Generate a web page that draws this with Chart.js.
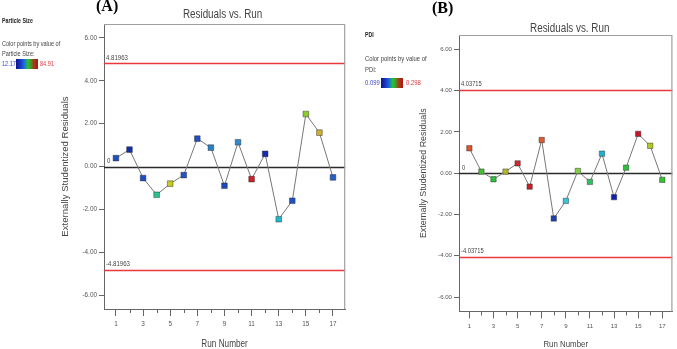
<!DOCTYPE html>
<html><head><meta charset="utf-8">
<script src="https://cdn.jsdelivr.net/npm/chart.js@4/dist/chart.umd.min.js"></script>
<style>
html,body{margin:0;padding:0;width:677px;height:349px;overflow:hidden;background:#fff;}
.w{position:absolute;top:0;height:349px;}
.t{position:absolute;white-space:nowrap;height:10px;line-height:10px;font-family:"Liberation Sans",Arial,sans-serif;color:#444;transform:scaleX(0.82);transform-origin:0 50%;}
.b{font-weight:bold;color:#222;}
.grad{position:absolute;background:linear-gradient(to right,#0c128c 0%,#1a3cc8 22%,#1f6fd8 38%,#1fc040 52%,#30b030 62%,#a04018 80%,#b01414 100%);}
.lab{position:absolute;white-space:nowrap;font-family:"Liberation Serif","Times New Roman",serif;font-weight:bold;font-size:16px;line-height:16px;color:#000;}
</style></head><body>
<div class="w" style="left:0;width:350px;"><canvas id="c1"></canvas></div>
<div class="w" style="left:355px;width:322px;"><canvas id="c2"></canvas></div>

<div class="lab" style="left:96px;top:-2.5px;">(A)</div>
<div class="lab" style="left:432px;top:-0.5px;">(B)</div>

<div class="t b" style="left:2px;top:15.5px;font-size:6.4px;">Particle Size</div>
<div class="t" style="left:2px;top:38.5px;font-size:6.8px;">Color points by value of</div>
<div class="t" style="left:2px;top:48.5px;font-size:6.8px;">Particle Size:</div>
<div class="t" style="left:2px;top:59px;font-size:6.8px;color:#3a44c8;">12.17</div>
<div class="grad" style="left:16px;top:59px;width:22px;height:10px;"></div>
<div class="t" style="left:40px;top:59px;font-size:6.8px;color:#e0393e;">84.91</div>

<div class="t b" style="left:365px;top:30px;font-size:6.4px;">PDI</div>
<div class="t" style="left:365px;top:54px;font-size:7.2px;">Color points by value of</div>
<div class="t" style="left:365px;top:64.5px;font-size:7.2px;">PDI:</div>
<div class="t" style="left:365px;top:78px;font-size:7.2px;color:#3a44c8;">0.099</div>
<div class="grad" style="left:381px;top:78px;width:22px;height:10px;"></div>
<div class="t" style="left:406px;top:78px;font-size:7.2px;color:#e0393e;">0.298</div>

<script>
// ---- data ----
const runs = [1,2,3,4,5,6,7,8,9,10,11,12,13,14,15,16,17];
const psResid = [0.39,0.79,-0.54,-1.32,-0.80,-0.40,1.30,0.88,-0.90,1.13,-0.59,0.59,-2.46,-1.60,2.45,1.58,-0.51];
const pdiResid = [1.21,0.08,-0.29,0.08,0.48,-0.65,1.61,-2.19,-1.34,0.11,-0.42,0.95,-1.16,0.27,1.91,1.33,-0.32];
const psColors = ['#1f4fc0','#1030a8','#2050c0','#2fbf8f','#c8c828','#2455c4','#2050c0','#2a80c8','#1d48b8','#2f8ad0','#d0202a','#1a2ab0','#22b8c8','#2050c0','#8ccc28','#d0b030','#2460c8'];
const pdiColors = ['#e05530','#40c030','#30c040','#b0b828','#d02830','#c82028','#e05a30','#2040b0','#30c8d8','#80d040','#30c060','#20b0d0','#1020b0','#30c040','#c01828','#b0c828','#38c030'];
const psLimit = 4.81963;
const pdiLimit = 4.03715;
const yTickValues = ['-6.00','-4.00','-2.00','0.00','2.00','4.00','6.00'];
const chartTitle = 'Residuals vs. Run';
const xTitle = 'Run Number';
const yTitle = 'Externally Studentized Residuals';

const REG = '"Liberation Sans",Arial,sans-serif';
const SX = 0.82; // horizontal squeeze of horizontal text

function squeezedText(ctx, text, x, y, align) {
  ctx.save();
  ctx.translate(x, y);
  ctx.scale(SX, 1);
  ctx.textAlign = align;
  ctx.fillText(text, 0, 0);
  ctx.restore();
}

const decor = {
  id: 'decor',
  beforeDatasetsDraw(chart, args, o) {
    const {ctx, chartArea: a, scales: {x, y}} = chart;
    ctx.save();
    ctx.lineWidth = 1.5;
    ctx.strokeStyle = '#e8383d';
    [o.limit, -o.limit].forEach(v => {
      const py = Math.round(y.getPixelForValue(v)) + 0.5;
      ctx.beginPath(); ctx.moveTo(a.left, py); ctx.lineTo(a.right, py); ctx.stroke();
    });
    ctx.strokeStyle = '#2a2a2a';
    const pz = Math.round(y.getPixelForValue(0)) + 0.5;
    ctx.beginPath(); ctx.moveTo(a.left, pz); ctx.lineTo(a.right, pz); ctx.stroke();
    ctx.fillStyle = '#444';
    ctx.font = o.labelSize + 'px ' + REG;
    ctx.textBaseline = 'bottom';
    squeezedText(ctx, String(o.limit), a.left + 2, y.getPixelForValue(o.limit) - 2, 'left');
    squeezedText(ctx, String(-o.limit), a.left + 2, y.getPixelForValue(-o.limit) - 2, 'left');
    squeezedText(ctx, '0', a.left + 3, y.getPixelForValue(0) - 2, 'left');
    ctx.restore();
  },
  afterDraw(chart, args, o) {
    const {ctx, chartArea: a, scales: {x}} = chart;
    ctx.save();
    ctx.strokeStyle = '#a0a0a0'; ctx.lineWidth = 1.2;
    ctx.beginPath();
    ctx.moveTo(a.left, a.top + 0.5); ctx.lineTo(a.right - 0.5, a.top + 0.5); ctx.lineTo(a.right - 0.5, a.bottom);
    ctx.stroke();
    // minor ticks on even runs
    ctx.strokeStyle = '#666'; ctx.lineWidth = 1;
    x.ticks.forEach(t => {
      if (t.value % 2 === 0) {
        const px = Math.round(x.getPixelForValue(t.value)) + 0.5;
        ctx.beginPath(); ctx.moveTo(px, a.bottom); ctx.lineTo(px, a.bottom + 4); ctx.stroke();
      }
    });
    // titles
    ctx.fillStyle = '#444';
    ctx.textBaseline = 'middle';
    ctx.font = o.titleSize + 'px ' + REG;
    squeezedText(ctx, chartTitle, (a.left + a.right) / 2 + o.titleDx, a.top - o.titleDy, 'center');
    ctx.font = o.xTitleSize + 'px ' + REG;
    squeezedText(ctx, xTitle, (a.left + a.right) / 2, o.xTitleY, 'center');
    ctx.restore();
  }
};

function makeChart(id, values, colors, c) {
  new Chart(document.getElementById(id), {
    type: 'line',
    data: {
      datasets: [{
        data: runs.map((r, i) => ({x: r, y: values[i]})),
        borderColor: '#777', borderWidth: 1, tension: 0,
        pointStyle: 'rect', pointRadius: c.r, pointHoverRadius: c.r,
        pointBackgroundColor: colors, pointBorderColor: 'rgba(40,40,40,0.55)', pointBorderWidth: 0.8
      }]
    },
    options: {
      responsive: true, maintainAspectRatio: false, animation: false,
      layout: {padding: {left: 0, top: c.top, right: c.right, bottom: 0}},
      plugins: {legend: {display: false}, tooltip: {enabled: false},
        decor: {limit: c.limit, labelSize: c.labelSize, titleSize: c.titleSize, titleDy: c.titleDy, titleDx: c.titleDx,
                xTitleSize: c.xTitleSize, xTitleY: c.xTitleY}},
      scales: {
        x: {
          type: 'linear', min: c.xmin, max: c.xmax,
          afterFit: s => { s.height = c.xHeight; },
          ticks: {stepSize: 1, includeBounds: false, autoSkip: false, maxRotation: 0, padding: c.xPad,
            color: '#555', font: {family: REG, size: c.tickSize},
            callback: v => (v % 2 === 1 ? String(v) : '')},
          grid: {drawOnChartArea: false, drawTicks: true, tickLength: 7, tickWidth: 1,
            tickColor: ctx => (ctx.tick && ctx.tick.value % 2 === 0 ? 'rgba(0,0,0,0)' : '#666')},
          border: {display: true, color: '#666', width: 1},
          title: {display: false}
        },
        y: {
          type: 'linear', min: -c.ymax, max: c.ymax,
          afterFit: s => { s.width = c.yWidth; },
          afterBuildTicks: s => { s.ticks = yTickValues.map(v => ({value: parseFloat(v)})); },
          ticks: {padding: 2, color: '#555', font: {family: REG, size: c.tickSize},
            callback: v => yTickValues.find(t => parseFloat(t) === v)},
          grid: {drawOnChartArea: false, drawTicks: true, tickLength: 5, tickColor: '#666'},
          border: {display: true, color: '#666', width: 1},
          title: {display: true, text: yTitle, color: '#444', padding: {top: c.yTitlePad, bottom: 0},
            font: {family: REG, size: c.yTitleSize, lineHeight: 1.2}}
        }
      }
    },
    plugins: [decor]
  });
}

makeChart('c1', psResid, psColors, {
  r: 4, top: 24, right: 4, xHeight: 40, yWidth: 104, xmin: 0.12, xmax: 17.9, ymax: 6.65,
  limit: psLimit, labelSize: 7.4, titleSize: 12, titleDy: 9.5, titleDx: -2,
  tickSize: 6.4, xPad: 4, xTitleSize: 10, xTitleY: 344.5, yTitleSize: 9.6, yTitlePad: 59.8
});
makeChart('c2', pdiResid, pdiColors, {
  r: 3.8, top: 35, right: 2, xHeight: 37.5, yWidth: 104, xmin: 0.14, xmax: 17.84, ymax: 6.7,
  limit: pdiLimit, labelSize: 7, titleSize: 12, titleDy: 6, titleDx: 4,
  tickSize: 6.1, xPad: 4, xTitleSize: 9.6, xTitleY: 344, yTitleSize: 8.9, yTitlePad: 63.7
});
</script>
</body></html>
